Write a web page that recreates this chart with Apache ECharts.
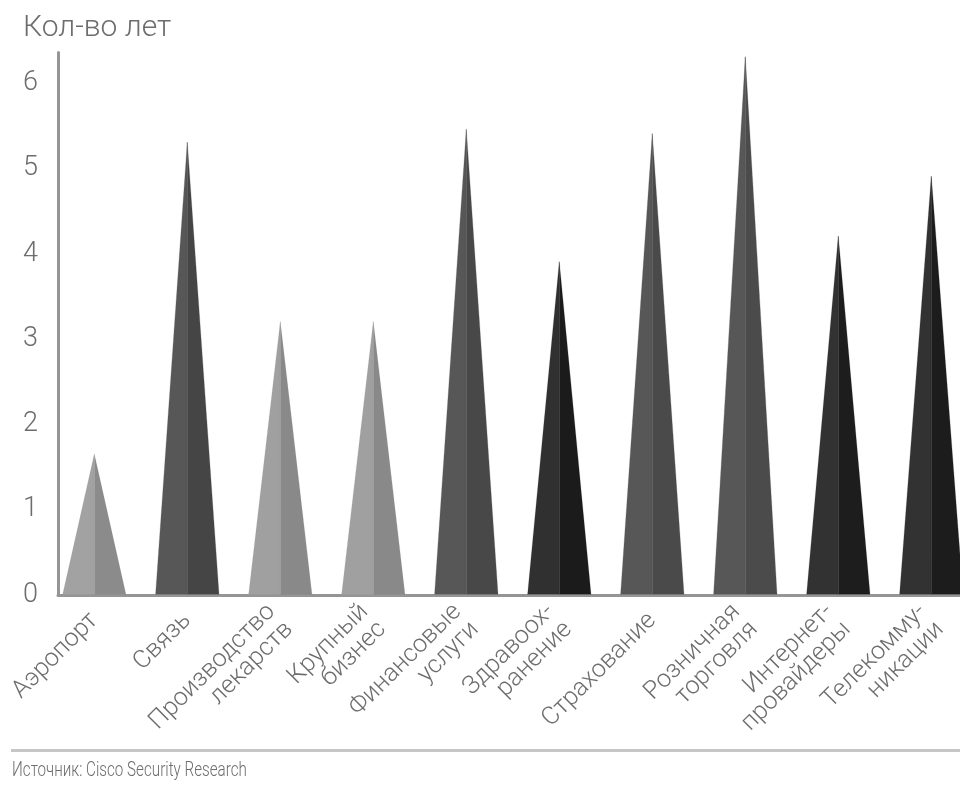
<!DOCTYPE html>
<html>
<head>
<meta charset="utf-8">
<script src="https://cdn.jsdelivr.net/npm/echarts@6/dist/echarts.min.js"></script>
<style>
  html, body { margin: 0; padding: 0; background: #fff; }
  #chart { width: 960px; height: 792px; }
</style>
</head>
<body>
<div id="chart"></div>
<script>
// Industries and the number of years for each
const industries = [
  'Аэропорт',
  'Связь',
  'Производство\nлекарств',
  'Крупный\nбизнес',
  'Финансовые\nуслуги',
  'Здравоох-\nранение',
  'Страхование',
  'Розничная\nторговля',
  'Интернет-\nпровайдеры',
  'Телекомму-\nникации'
];
const years = [1.65, 5.3, 3.2, 3.2, 5.45, 3.9, 5.4, 6.3, 4.2, 4.9];
const yTicks = [0, 1, 2, 3, 4, 5, 6];

// Two shades per cone: lit left face, shaded right face
const leftShade  = ['#a2a2a2', '#575757', '#a0a0a0', '#a0a0a0', '#575757', '#303030', '#575757', '#575757', '#323232', '#323232'];
const rightShade = ['#8b8b8b', '#454545', '#898989', '#898989', '#484848', '#1b1b1b', '#4a4a4a', '#4b4b4b', '#1d1d1d', '#1c1c1c'];

const textColor = '#6d6d6d';
const fontFamily = 'Roboto, "Noto Sans", "Liberation Sans", sans-serif';
const yMax = 6.36;

const chart = echarts.init(document.getElementById('chart'), null, { renderer: 'canvas' });

const halfWidth = 31.7;

function faceData(shades) {
  return years.map((v, i) => ({ value: v, itemStyle: { color: shades[i], borderColor: shades[i], borderWidth: 0.4 } }));
}

chart.setOption({
  animation: false,
  backgroundColor: '#ffffff',
  title: [
    {
      text: 'Кол-во лет',
      left: 18, top: 8,
      textStyle: { color: textColor, fontFamily, fontSize: 30, fontWeight: 300 }
    }
  ],
  graphic: [
    {
      type: 'line',
      shape: { x1: 11, y1: 750.5, x2: 960, y2: 750.5 },
      style: { stroke: '#c6c6c6', lineWidth: 3 }
    },
    {
      type: 'text',
      x: 12, y: 771, scaleX: 0.76,
      style: {
        text: 'Источник: Cisco Security Research',
        fill: textColor, font: '300 20px Roboto, "Noto Sans", sans-serif',
        verticalAlign: 'middle'
      }
    }
  ],
  grid: [
    // frame with the axis lines
    { left: 58, width: 920, top: 52.5, bottom: 197, outerBoundsMode: 'none' },
    // cones, one 93px band per industry
    { left: 47.8, width: 930, top: 52.5, bottom: 197, outerBoundsMode: 'none' }
  ],
  xAxis: [
    {
      type: 'value', gridIndex: 0, min: 0, max: 1,
      axisLine: { show: true, lineStyle: { color: '#959595', width: 3 } },
      axisTick: { show: false }, axisLabel: { show: false }, splitLine: { show: false }
    },
    {
      type: 'category', gridIndex: 1, data: industries,
      axisLine: { show: false }, axisTick: { show: false },
      axisLabel: {
        rotate: 45, interval: 0, margin: 22,
        color: textColor, fontFamily, fontSize: 25, fontWeight: 300, lineHeight: 25
      }
    }
  ],
  yAxis: [
    {
      type: 'value', gridIndex: 0, min: 0, max: yMax, interval: 1,
      axisLine: { show: true, lineStyle: { color: '#959595', width: 3 } },
      axisTick: { show: false }, splitLine: { show: false },
      axisLabel: {
        margin: 20, color: textColor, fontFamily, fontSize: 27, fontWeight: 300,
        formatter: v => (yTicks.indexOf(v) >= 0 ? String(v) : '')
      }
    },
    {
      type: 'value', gridIndex: 1, min: 0, max: yMax, show: false
    }
  ],
  series: [
    {
      name: 'left', type: 'pictorialBar', xAxisIndex: 1, yAxisIndex: 1,
      barGap: '-100%', z: 3,
      symbol: 'path://M0,1L1,0L1,1Z',
      symbolSize: [halfWidth, '100%'],
      symbolOffset: ['-50%', 0],
      data: faceData(leftShade)
    },
    {
      name: 'right', type: 'pictorialBar', xAxisIndex: 1, yAxisIndex: 1,
      barGap: '-100%', z: 3,
      symbol: 'path://M0,0L1,1L0,1Z',
      symbolSize: [halfWidth, '100%'],
      symbolOffset: ['50%', 0],
      data: faceData(rightShade)
    }
  ]
});
</script>
</body>
</html>
